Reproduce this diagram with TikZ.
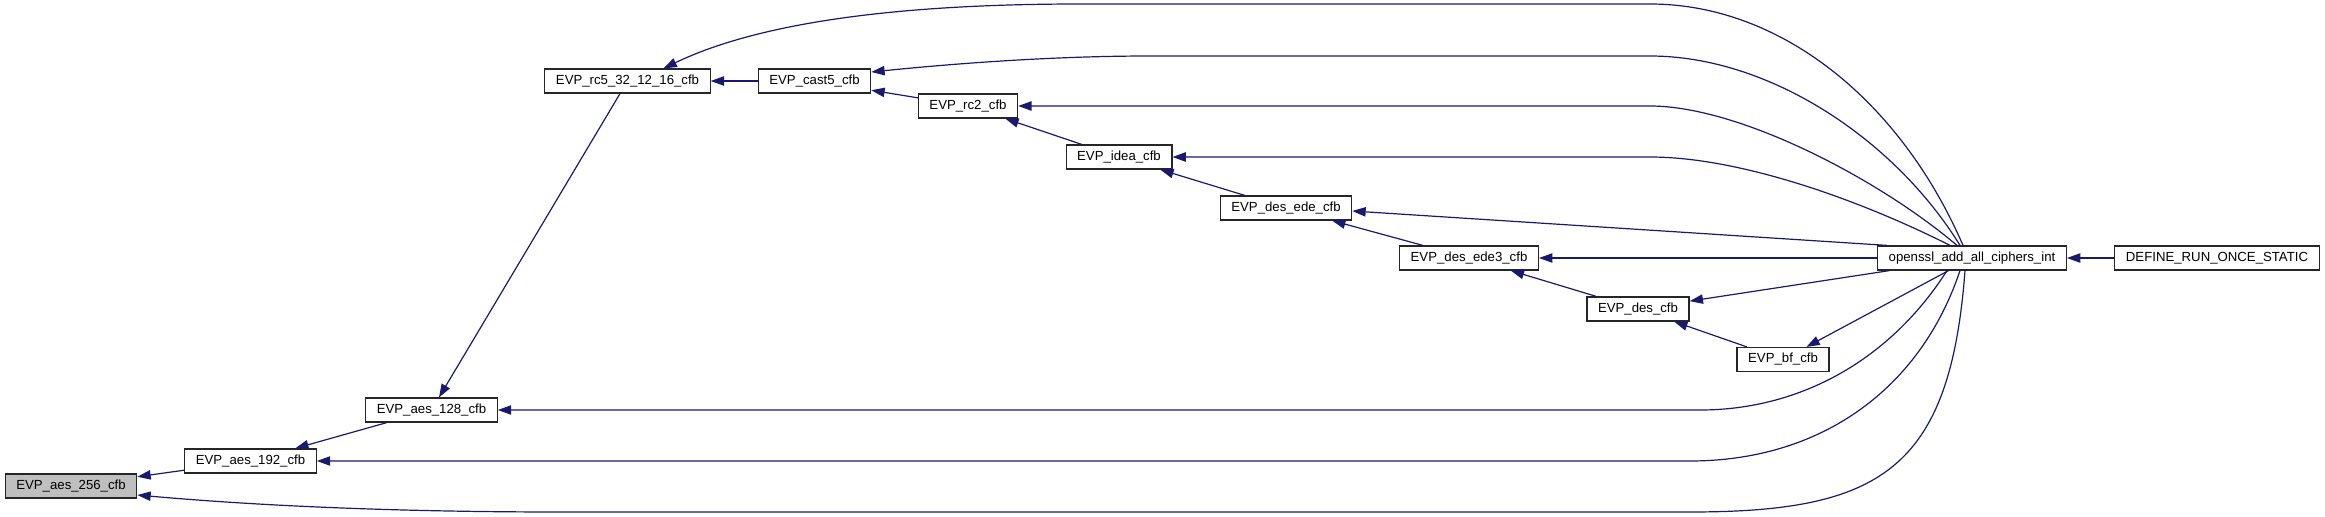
\documentclass[tikz,border=0pt]{standalone}
\usepackage{fontspec}
\setmainfont{Liberation Sans}
\usetikzlibrary{arrows.meta,calc}
\definecolor{edgeblue}{HTML}{191970}
\definecolor{rootgray}{HTML}{BFBFBF}

\begin{document}
\begin{tikzpicture}[x=0.75pt,y=-0.75pt,
    fn/.style={draw=black!85,line width=0.9pt,fill=white,minimum height=18pt,
      inner xsep=8.3pt,inner ysep=0pt,font=\fontsize{9.9}{12}\selectfont},
    root/.style={fn,fill=rootgray},
    call/.style={edgeblue,line width=0.9pt,{Triangle[length=10pt,width=7pt]}-}]
    \useasboundingbox (0,0) rectangle (2325,517);

    % functions
    \node[root] (aes256) at (71,486) {EVP\_aes\_256\_cfb};
    \node[fn] (aes192) at (250.5,461) {EVP\_aes\_192\_cfb};
    \node[fn] (aes128) at (431.5,410) {EVP\_aes\_128\_cfb};
    \node[fn] (rc5) at (627.5,81) {EVP\_rc5\_32\_12\_16\_cfb};
    \node[fn] (cast5) at (814.5,81) {EVP\_cast5\_cfb};
    \node[fn] (rc2) at (968,106) {EVP\_rc2\_cfb};
    \node[fn] (idea) at (1119,157) {EVP\_idea\_cfb};
    \node[fn] (desede) at (1286,208) {EVP\_des\_ede\_cfb};
    \node[fn] (desede3) at (1469,258) {EVP\_des\_ede3\_cfb};
    \node[fn] (des) at (1638,309) {EVP\_des\_cfb};
    \node[fn] (bf) at (1783,359.5) {EVP\_bf\_cfb};
    \node[fn] (openssl) at (1972,258) {openssl\_add\_all\_ciphers\_int};
    \node[fn] (define) at (2217,258) {DEFINE\_RUN\_ONCE\_STATIC};

    % chain of callers
    \draw[call] (aes256) -- (aes192);
    \draw[call] (aes192) -- (aes128);
    \draw[call] (aes128) -- (rc5);
    \draw[call] (rc5) -- (cast5);
    \draw[call] (cast5) -- (rc2);
    \draw[call] (rc2) -- (idea);
    \draw[call] (idea) -- (desede);
    \draw[call] (desede) -- (desede3);
    \draw[call] (desede3) -- (des);
    \draw[call] (des) -- (bf);
    \draw[call] (openssl) -- (define);

    % edges from openssl_add_all_ciphers_int
    \draw[call] ($(rc5.north)+(36,0)$) .. controls (760,22) and (900,4) .. (1080,4)
        -- (1650,4) .. controls (1780,4) and (1900,100) .. ($(openssl.north)+(-9,0)$);
    \draw[call] ($(cast5.east)+(0,-9)$) .. controls (950,64) and (1050,56) .. (1150,56)
        -- (1650,56) .. controls (1770,56) and (1895,140) .. ($(openssl.north)+(-12,0)$);
    \draw[call] (rc2.east) -- (1650,106) .. controls (1740,106) and (1880,180) .. ($(openssl.north)+(-15,0)$);
    \draw[call] (idea.east) -- (1650,157) .. controls (1740,157) and (1860,200) .. ($(openssl.north)+(-22,0)$);
    \draw[call] ($(desede.east)+(0,3)$) -- ($(openssl.north west)+(10,0)$);
    \draw[call] (desede3) -- (openssl);
    \draw[call] (des) -- (openssl);
    \draw[call] (bf) -- (openssl);
    \draw[call] (aes128.east) -- (1700,410) .. controls (1800,410) and (1890,360) .. ($(openssl.south)+(-25,0)$);
    \draw[call] (aes192.east) -- (1690,461) .. controls (1820,461) and (1920,390) .. ($(openssl.south)+(-12,0)$);
    \draw[call] ($(aes256.east)+(0,9)$) .. controls (260,506) and (400,512) .. (560,512)
        -- (1690,512) .. controls (1880,512) and (1950,470) .. ($(openssl.south)+(-7,0)$);
\end{tikzpicture}
\end{document}
